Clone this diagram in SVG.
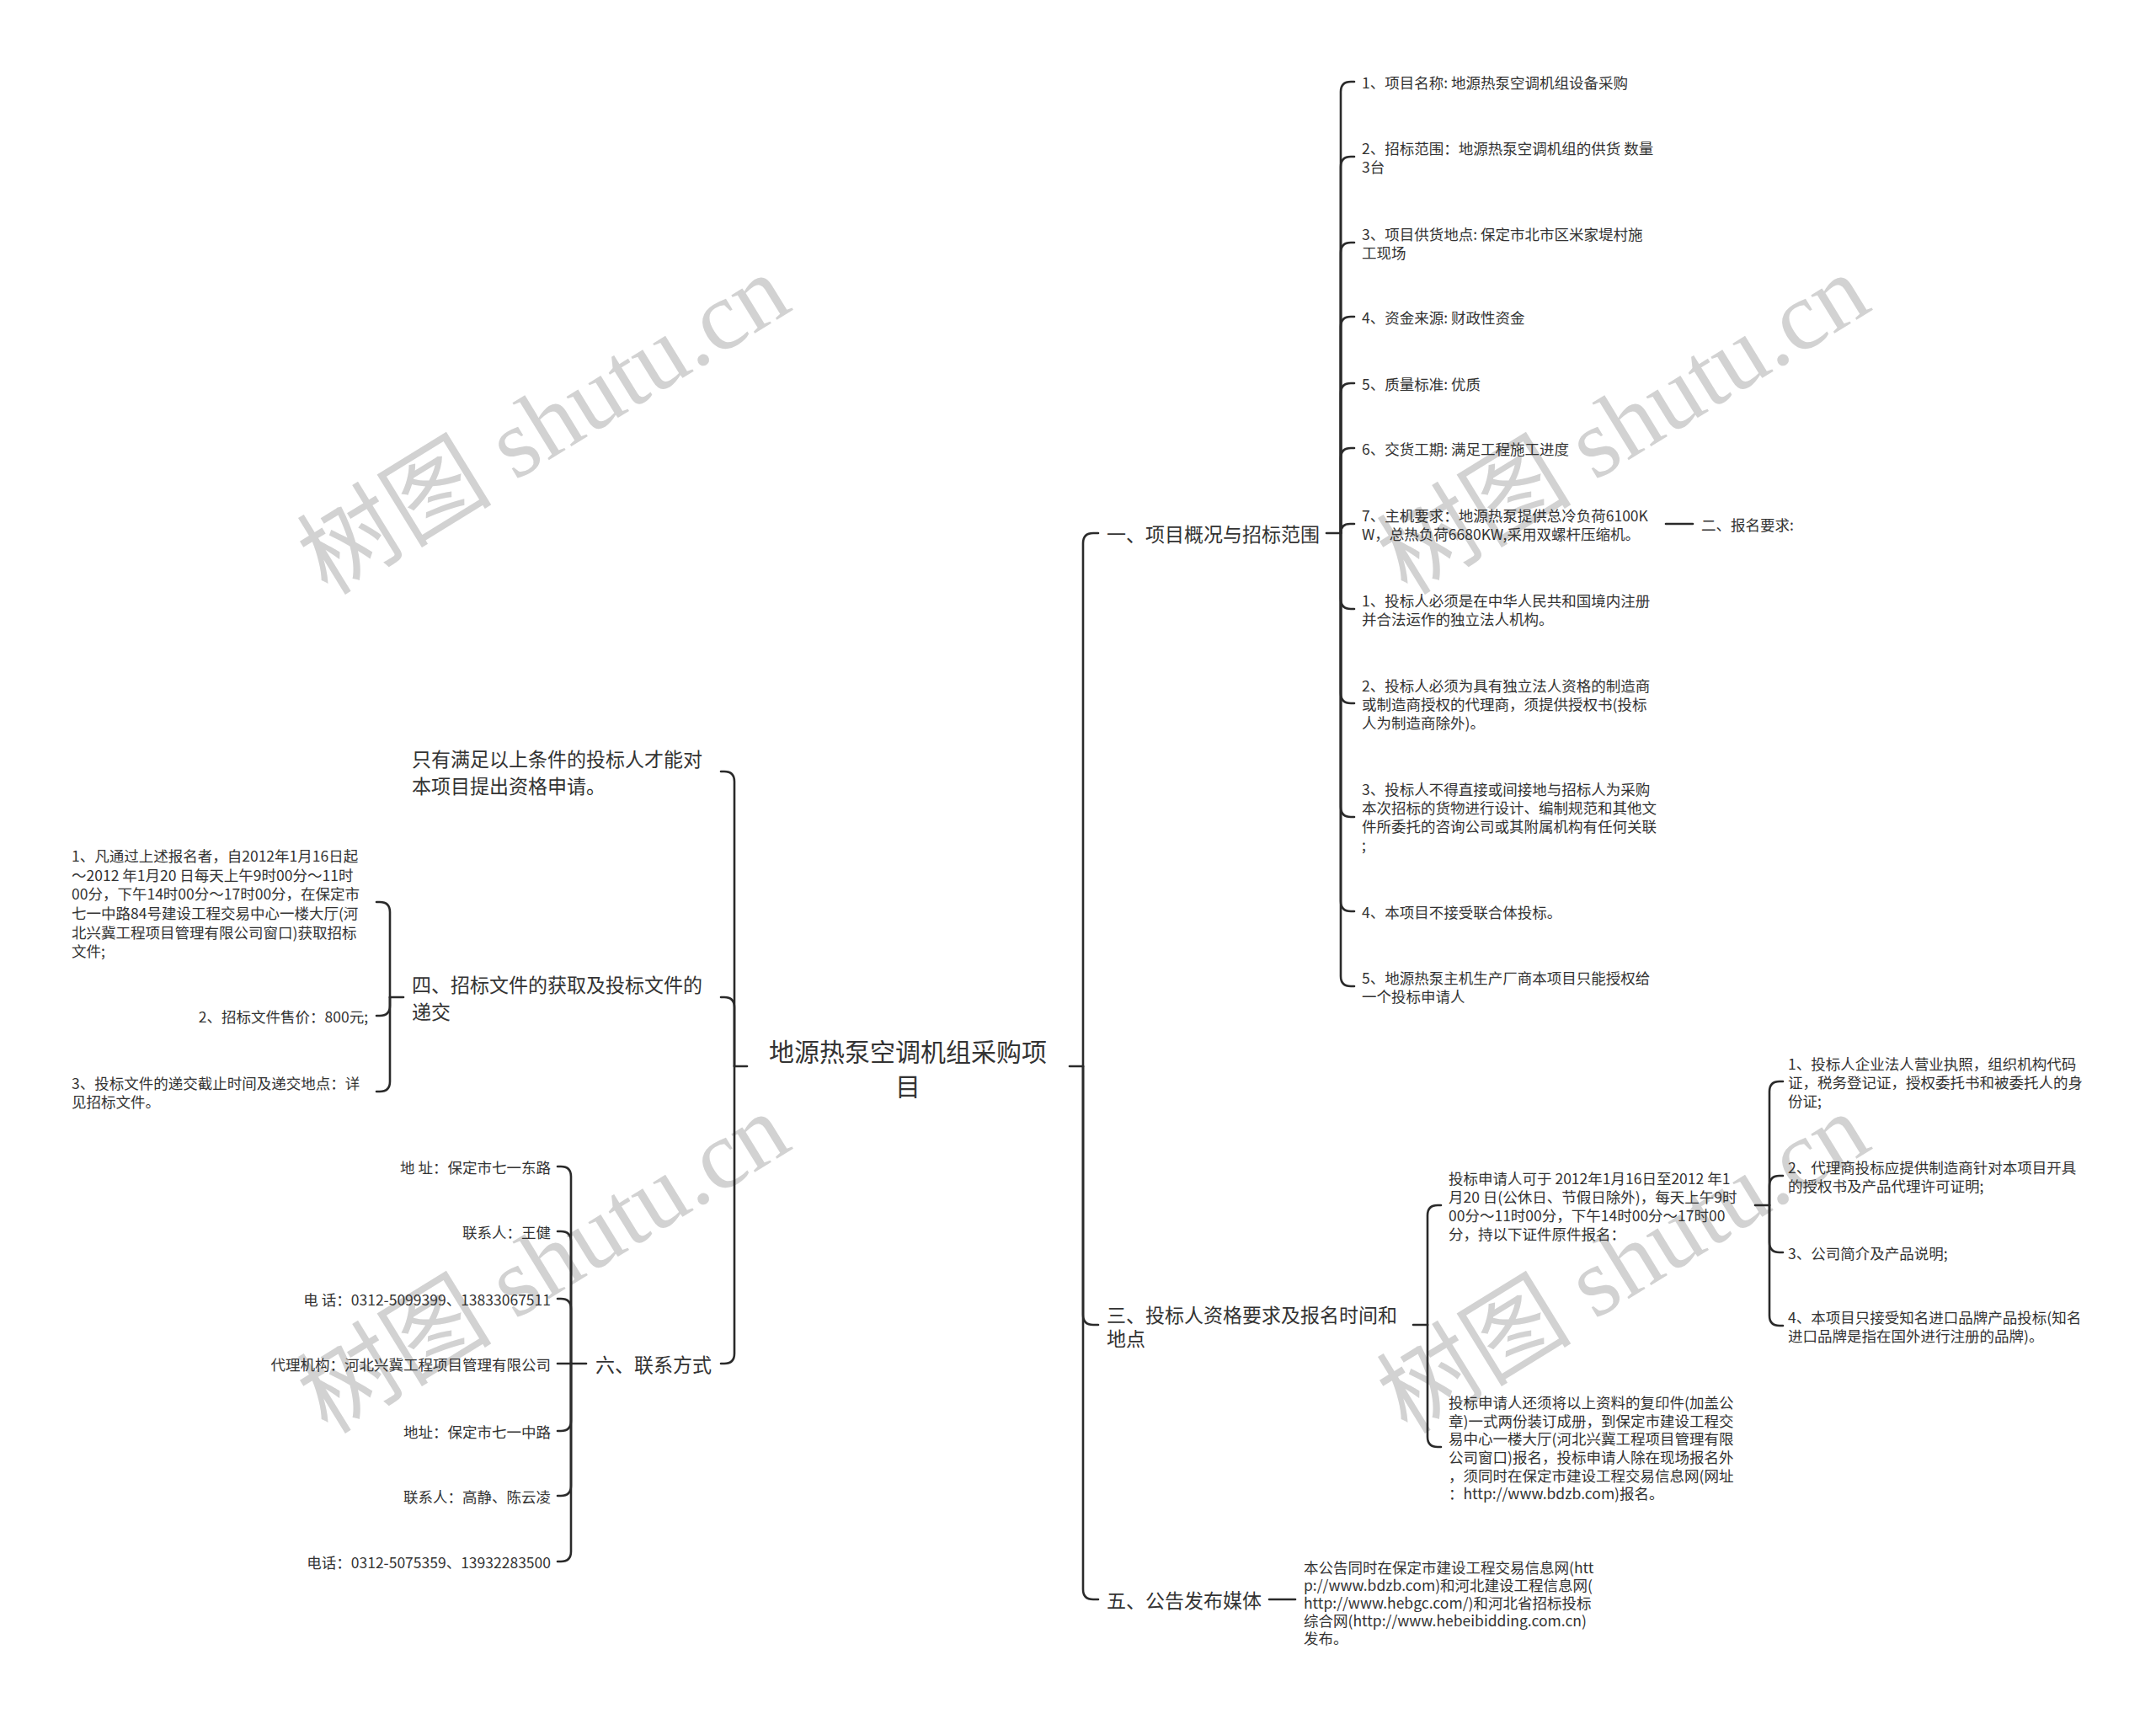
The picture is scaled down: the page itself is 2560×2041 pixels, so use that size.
<svg xmlns="http://www.w3.org/2000/svg" width="2560" height="2041" viewBox="0 0 2560 2041">
<style>
.t{font-family:"Noto Sans CJK SC","Noto Sans",sans-serif;fill:#333;dominant-baseline:central}
.s{font-size:17.5px}
.m{font-size:23px}
.r{font-size:30px}
.e{text-anchor:end}
.c{text-anchor:middle}
.wm{font-family:"Liberation Serif","Noto Sans CJK SC",serif;font-size:116px;fill:#d2d2d2}
.ln{fill:none;stroke:#2a2a2a;stroke-width:2.6;stroke-linecap:round;stroke-linejoin:round}
</style>
<rect width="2560" height="2041" fill="#fff"/>
<g id="watermarks">
<text class="wm" transform="translate(389,708) rotate(-31.6)">树图 shutu.cn</text>
<text class="wm" transform="translate(1671,708) rotate(-31.6)">树图 shutu.cn</text>
<text class="wm" transform="translate(389,1704) rotate(-31.6)">树图 shutu.cn</text>
<text class="wm" transform="translate(1671,1704) rotate(-31.6)">树图 shutu.cn</text>
</g>
<g id="connectors" class="ln">
<path d="M1270 1266H1286"/>
<path d="M1286 1266V645Q1286 633 1298 633H1304"/>
<path d="M1286 1266V1561Q1286 1573 1298 1573H1304"/>
<path d="M1286 1266V1887Q1286 1899 1298 1899H1304"/>
<path d="M1575 633H1592"/>
<path d="M1592 633V109Q1592 97 1604 97H1608"/>
<path d="M1592 633V198Q1592 186 1604 186H1608"/>
<path d="M1592 633V300Q1592 288 1604 288H1608"/>
<path d="M1592 633V388Q1592 376 1604 376H1608"/>
<path d="M1592 633V467Q1592 455 1604 455H1608"/>
<path d="M1592 633V544Q1592 532 1604 532H1608"/>
<path d="M1592 633Q1592 622 1603 622H1608"/>
<path d="M1592 633V711Q1592 723 1604 723H1608"/>
<path d="M1592 633V823Q1592 835 1604 835H1608"/>
<path d="M1592 633V958Q1592 970 1604 970H1608"/>
<path d="M1592 633V1070Q1592 1082 1604 1082H1608"/>
<path d="M1592 633V1159Q1592 1171 1604 1171H1608"/>
<path d="M1978 622H2010"/>
<path d="M1678 1573H1695"/>
<path d="M1695 1573V1443Q1695 1431 1707 1431H1711"/>
<path d="M1695 1573V1706Q1695 1718 1707 1718H1711"/>
<path d="M2084 1431H2101"/>
<path d="M2101 1431V1296Q2101 1284 2113 1284H2117"/>
<path d="M2101 1431V1408Q2101 1396 2113 1396H2117"/>
<path d="M2101 1431V1475Q2101 1487 2113 1487H2117"/>
<path d="M2101 1431V1562Q2101 1574 2113 1574H2117"/>
<path d="M1507 1899H1538"/>
<path d="M887 1266H872"/>
<path d="M872 1266V928Q872 916 860 916H856"/>
<path d="M872 1266V1196Q872 1184 860 1184H856"/>
<path d="M872 1266V1607Q872 1619 860 1619H856"/>
<path d="M479 1184H463"/>
<path d="M463 1184V1083Q463 1071 451 1071H447"/>
<path d="M463 1184V1194Q463 1206 451 1206H447"/>
<path d="M463 1184V1284Q463 1296 451 1296H447"/>
<path d="M696 1619H678"/>
<path d="M678 1619V1397Q678 1385 666 1385H662"/>
<path d="M678 1619V1474Q678 1462 666 1462H662"/>
<path d="M678 1619V1554Q678 1542 666 1542H662"/>
<path d="M678 1619H662"/>
<path d="M678 1619V1687Q678 1699 666 1699H662"/>
<path d="M678 1619V1764Q678 1776 666 1776H662"/>
<path d="M678 1619V1842Q678 1854 666 1854H662"/>
</g>
<g id="root"><text class="t r c"><tspan x="1078" y="1247">地源热泵空调机组采购项</tspan><tspan x="1078" y="1288">目</tspan></text></g>
<g id="n1"><text class="t m" x="1314" y="633">一、项目概况与招标范围</text></g>
<g id="n1-1"><text class="t s" x="1617" y="97">1、项目名称: 地源热泵空调机组设备采购</text></g>
<g id="n1-2"><text class="t s"><tspan x="1617" y="175">2、招标范围：地源热泵空调机组的供货 数量</tspan><tspan x="1617" y="197">3台</tspan></text></g>
<g id="n1-3"><text class="t s"><tspan x="1617" y="277">3、项目供货地点: 保定市北市区米家堤村施</tspan><tspan x="1617" y="299">工现场</tspan></text></g>
<g id="n1-4"><text class="t s" x="1617" y="376">4、资金来源: 财政性资金</text></g>
<g id="n1-5"><text class="t s" x="1617" y="455">5、质量标准: 优质</text></g>
<g id="n1-6"><text class="t s" x="1617" y="532">6、交货工期: 满足工程施工进度</text></g>
<g id="n1-7"><text class="t s"><tspan x="1617" y="611">7、主机要求：地源热泵提供总冷负荷6100K</tspan><tspan x="1617" y="633">W，总热负荷6680KW,采用双螺杆压缩机。</tspan></text></g>
<g id="n1-7-1"><text class="t s" x="2020" y="622">二、报名要求:</text></g>
<g id="n1-8"><text class="t s"><tspan x="1617" y="712">1、投标人必须是在中华人民共和国境内注册</tspan><tspan x="1617" y="734">并合法运作的独立法人机构。</tspan></text></g>
<g id="n1-9"><text class="t s"><tspan x="1617" y="813">2、投标人必须为具有独立法人资格的制造商</tspan><tspan x="1617" y="835">或制造商授权的代理商，须提供授权书(投标</tspan><tspan x="1617" y="857">人为制造商除外)。</tspan></text></g>
<g id="n1-10"><text class="t s"><tspan x="1617" y="936">3、投标人不得直接或间接地与招标人为采购</tspan><tspan x="1617" y="958">本次招标的货物进行设计、编制规范和其他文</tspan><tspan x="1617" y="980">件所委托的咨询公司或其附属机构有任何关联</tspan><tspan x="1617" y="1002">;</tspan></text></g>
<g id="n1-11"><text class="t s" x="1617" y="1082">4、本项目不接受联合体投标。</text></g>
<g id="n1-12"><text class="t s"><tspan x="1617" y="1160">5、地源热泵主机生产厂商本项目只能授权给</tspan><tspan x="1617" y="1182">一个投标申请人</tspan></text></g>
<g id="n3"><text class="t m"><tspan x="1314" y="1560">三、投标人资格要求及报名时间和</tspan><tspan x="1314" y="1588">地点</tspan></text></g>
<g id="n3-1"><text class="t s"><tspan x="1720" y="1398">投标申请人可于 2012年1月16日至2012 年1</tspan><tspan x="1720" y="1420">月20 日(公休日、节假日除外)，每天上午9时</tspan><tspan x="1720" y="1442">00分～11时00分，下午14时00分～17时00</tspan><tspan x="1720" y="1464">分，持以下证件原件报名：</tspan></text></g>
<g id="n3-1-1"><text class="t s"><tspan x="2123" y="1262">1、投标人企业法人营业执照，组织机构代码</tspan><tspan x="2123" y="1284">证，税务登记证，授权委托书和被委托人的身</tspan><tspan x="2123" y="1306">份证;</tspan></text></g>
<g id="n3-1-2"><text class="t s"><tspan x="2123" y="1385">2、代理商投标应提供制造商针对本项目开具</tspan><tspan x="2123" y="1407">的授权书及产品代理许可证明;</tspan></text></g>
<g id="n3-1-3"><text class="t s" x="2123" y="1487">3、公司简介及产品说明;</text></g>
<g id="n3-1-4"><text class="t s"><tspan x="2123" y="1563">4、本项目只接受知名进口品牌产品投标(知名</tspan><tspan x="2123" y="1585">进口品牌是指在国外进行注册的品牌)。</tspan></text></g>
<g id="n3-2"><text class="t s"><tspan x="1720" y="1664">投标申请人还须将以上资料的复印件(加盖公</tspan><tspan x="1720" y="1686">章)一式两份装订成册，到保定市建设工程交</tspan><tspan x="1720" y="1707">易中心一楼大厅(河北兴冀工程项目管理有限</tspan><tspan x="1720" y="1729">公司窗口)报名，投标申请人除在现场报名外</tspan><tspan x="1720" y="1751">，须同时在保定市建设工程交易信息网(网址</tspan><tspan x="1720" y="1772">：http://www.bdzb.com)报名。</tspan></text></g>
<g id="n5"><text class="t m" x="1314" y="1899">五、公告发布媒体</text></g>
<g id="n5-1"><text class="t s"><tspan x="1548" y="1860">本公告同时在保定市建设工程交易信息网(htt</tspan><tspan x="1548" y="1881">p://www.bdzb.com)和河北建设工程信息网(</tspan><tspan x="1548" y="1902">http://www.hebgc.com/)和河北省招标投标</tspan><tspan x="1548" y="1923">综合网(http://www.hebeibidding.com.cn)</tspan><tspan x="1548" y="1944">发布。</tspan></text></g>
<g id="n-only"><text class="t m"><tspan x="489" y="900">只有满足以上条件的投标人才能对</tspan><tspan x="489" y="932">本项目提出资格申请。</tspan></text></g>
<g id="n4"><text class="t m"><tspan x="489" y="1168">四、招标文件的获取及投标文件的</tspan><tspan x="489" y="1200">递交</tspan></text></g>
<g id="n4-1"><text class="t s"><tspan x="85" y="1015">1、凡通过上述报名者，自2012年1月16日起</tspan><tspan x="85" y="1038">～2012 年1月20 日每天上午9时00分～11时</tspan><tspan x="85" y="1060">00分，下午14时00分～17时00分，在保定市</tspan><tspan x="85" y="1083">七一中路84号建设工程交易中心一楼大厅(河</tspan><tspan x="85" y="1106">北兴冀工程项目管理有限公司窗口)获取招标</tspan><tspan x="85" y="1128">文件;</tspan></text></g>
<g id="n4-2"><text class="t s e" x="437" y="1206">2、招标文件售价：800元;</text></g>
<g id="n4-3"><text class="t s"><tspan x="85" y="1285">3、投标文件的递交截止时间及递交地点：详</tspan><tspan x="85" y="1307">见招标文件。</tspan></text></g>
<g id="n6"><text class="t m" x="707" y="1619">六、联系方式</text></g>
<g id="n6-1"><text class="t s e" x="654" y="1385">地 址：保定市七一东路</text></g>
<g id="n6-2"><text class="t s e" x="654" y="1462">联系人：王健</text></g>
<g id="n6-3"><text class="t s e" x="654" y="1542">电 话：0312-5099399、13833067511</text></g>
<g id="n6-4"><text class="t s e" x="654" y="1619">代理机构：河北兴冀工程项目管理有限公司</text></g>
<g id="n6-5"><text class="t s e" x="654" y="1699">地址：保定市七一中路</text></g>
<g id="n6-6"><text class="t s e" x="654" y="1776">联系人：高静、陈云凌</text></g>
<g id="n6-7"><text class="t s e" x="654" y="1854">电话：0312-5075359、13932283500</text></g>
</svg>
